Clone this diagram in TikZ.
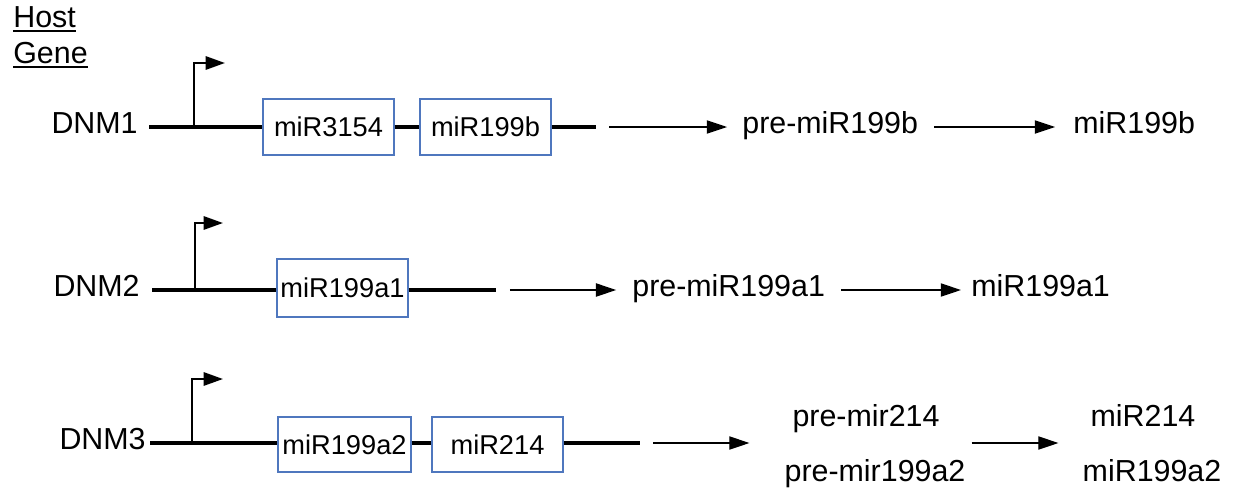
\documentclass[tikz,border=0pt]{standalone}
\usepackage{fontspec}
\setmainfont{Liberation Sans}
\usepackage{tikz}
\usetikzlibrary{arrows.meta}
\definecolor{boxblue}{RGB}{79,119,190}

\begin{document}
\begin{tikzpicture}[x=0.02cm, y=-0.02cm,
        gene/.style={line width=2.8pt},
        prom/.style={line width=1.4pt, -{Triangle[length=11pt, width=7.5pt]}},
        conv/.style={line width=0.8pt, -{Triangle[length=11.5pt, width=7.5pt]}},
        mirbox/.style={draw=boxblue, line width=0.7pt, fill=white, inner sep=0pt,
            minimum width=2.62cm, minimum height=1.12cm,
            font=\fontsize{15.5}{18}\selectfont},
        lbl/.style={inner sep=0pt, text height=0.69em, text depth=0pt,
            font=\fontsize{17.3}{20}\selectfont}]
        \useasboundingbox (0,0) rectangle (1238,495);

        % column title
        \node[lbl, anchor=west] (host) at (13,21.5) {Host};
        \node[lbl, anchor=west] (gene) at (13,57) {Gene};
        \foreach \w in {host,gene}
            \draw[line width=1.1pt] ([yshift=-1.8pt]\w.south west) -- ([yshift=-1.8pt]\w.south east);

        % DNM1
        \node[lbl, anchor=east] (dnm1) at (138,127) {DNM1};
        \coordinate (g1a) at (149,127);
        \coordinate (g1b) at (596,127);
        \coordinate (tss1) at (194,127);
        \node[mirbox] (m3154) at (328.5,127) {miR3154};
        \node[mirbox] (m199b) at (485.5,127) {miR199b};
        \draw[gene] (g1a) -- (m3154.west) (m3154.east) -- (m199b.west) (m199b.east) -- (g1b);
        \draw[prom] (tss1) |- ++(31,-64);
        \node[lbl, anchor=west] (pre1) at (742,127) {pre-miR199b};
        \node[lbl, anchor=west] (mat1) at (1073,127) {miR199b};
        \draw[conv, shorten <=7.4pt, shorten >=8.5pt] (g1b) -- (pre1);
        \draw[conv, shorten <=9pt, shorten >=10.2pt] (pre1) -- (mat1);

        % DNM2
        \node[lbl, anchor=east] (dnm2) at (140,290) {DNM2};
        \coordinate (g2a) at (152,290);
        \coordinate (g2b) at (496,290);
        \coordinate (tss2) at (195,290);
        \node[mirbox, minimum height=1.16cm] (m199a1) at (342.5,288) {miR199a1};
        \draw[gene] (g2a) -- (m199a1.west |- g2a) (m199a1.east |- g2b) -- (g2b);
        \draw[prom] (tss2) |- ++(28,-67);
        \node[lbl, anchor=west] (pre2) at (632,290) {pre-miR199a1};
        \node[lbl, anchor=west] (mat2) at (971,290) {miR199a1};
        \draw[conv, shorten <=7.9pt, shorten >=9pt] (g2b) -- (pre2);
        \draw[conv, shorten <=9pt, shorten >=5.7pt] (pre2) -- (mat2);

        % DNM3
        \node[lbl, anchor=east] (dnm3) at (146,443) {DNM3};
        \coordinate (g3a) at (150,443);
        \coordinate (g3b) at (640,443);
        \coordinate (tss3) at (192,443);
        \node[mirbox, minimum width=2.66cm, minimum height=1.1cm] (m199a2) at (344.5,444.5) {miR199a2};
        \node[mirbox, minimum height=1.1cm] (m214) at (497.5,444.5) {miR214};
        \draw[gene] (g3a) -- (m199a2.west |- g3a) (m199a2.east |- g3a) -- (m214.west |- g3a)
            (m214.east |- g3b) -- (g3b);
        \draw[prom] (tss3) |- ++(31,-64);
        \node[lbl] (pre3a) at (866,420) {pre-mir214};
        \node[lbl] (pre3b) at (875,475) {pre-mir199a2};
        \node[lbl] (mat3a) at (1143,420) {miR214};
        \node[lbl] (mat3b) at (1152,475) {miR199a2};
        \draw[conv, shorten <=7.4pt, shorten >=19.8pt] (g3b) -- (pre3b.west |- g3b);
        \draw[conv, shorten <=3.4pt, shorten >=13.6pt] (pre3b.east |- g3b) -- (mat3b.west |- g3b);
\end{tikzpicture}
\end{document}
